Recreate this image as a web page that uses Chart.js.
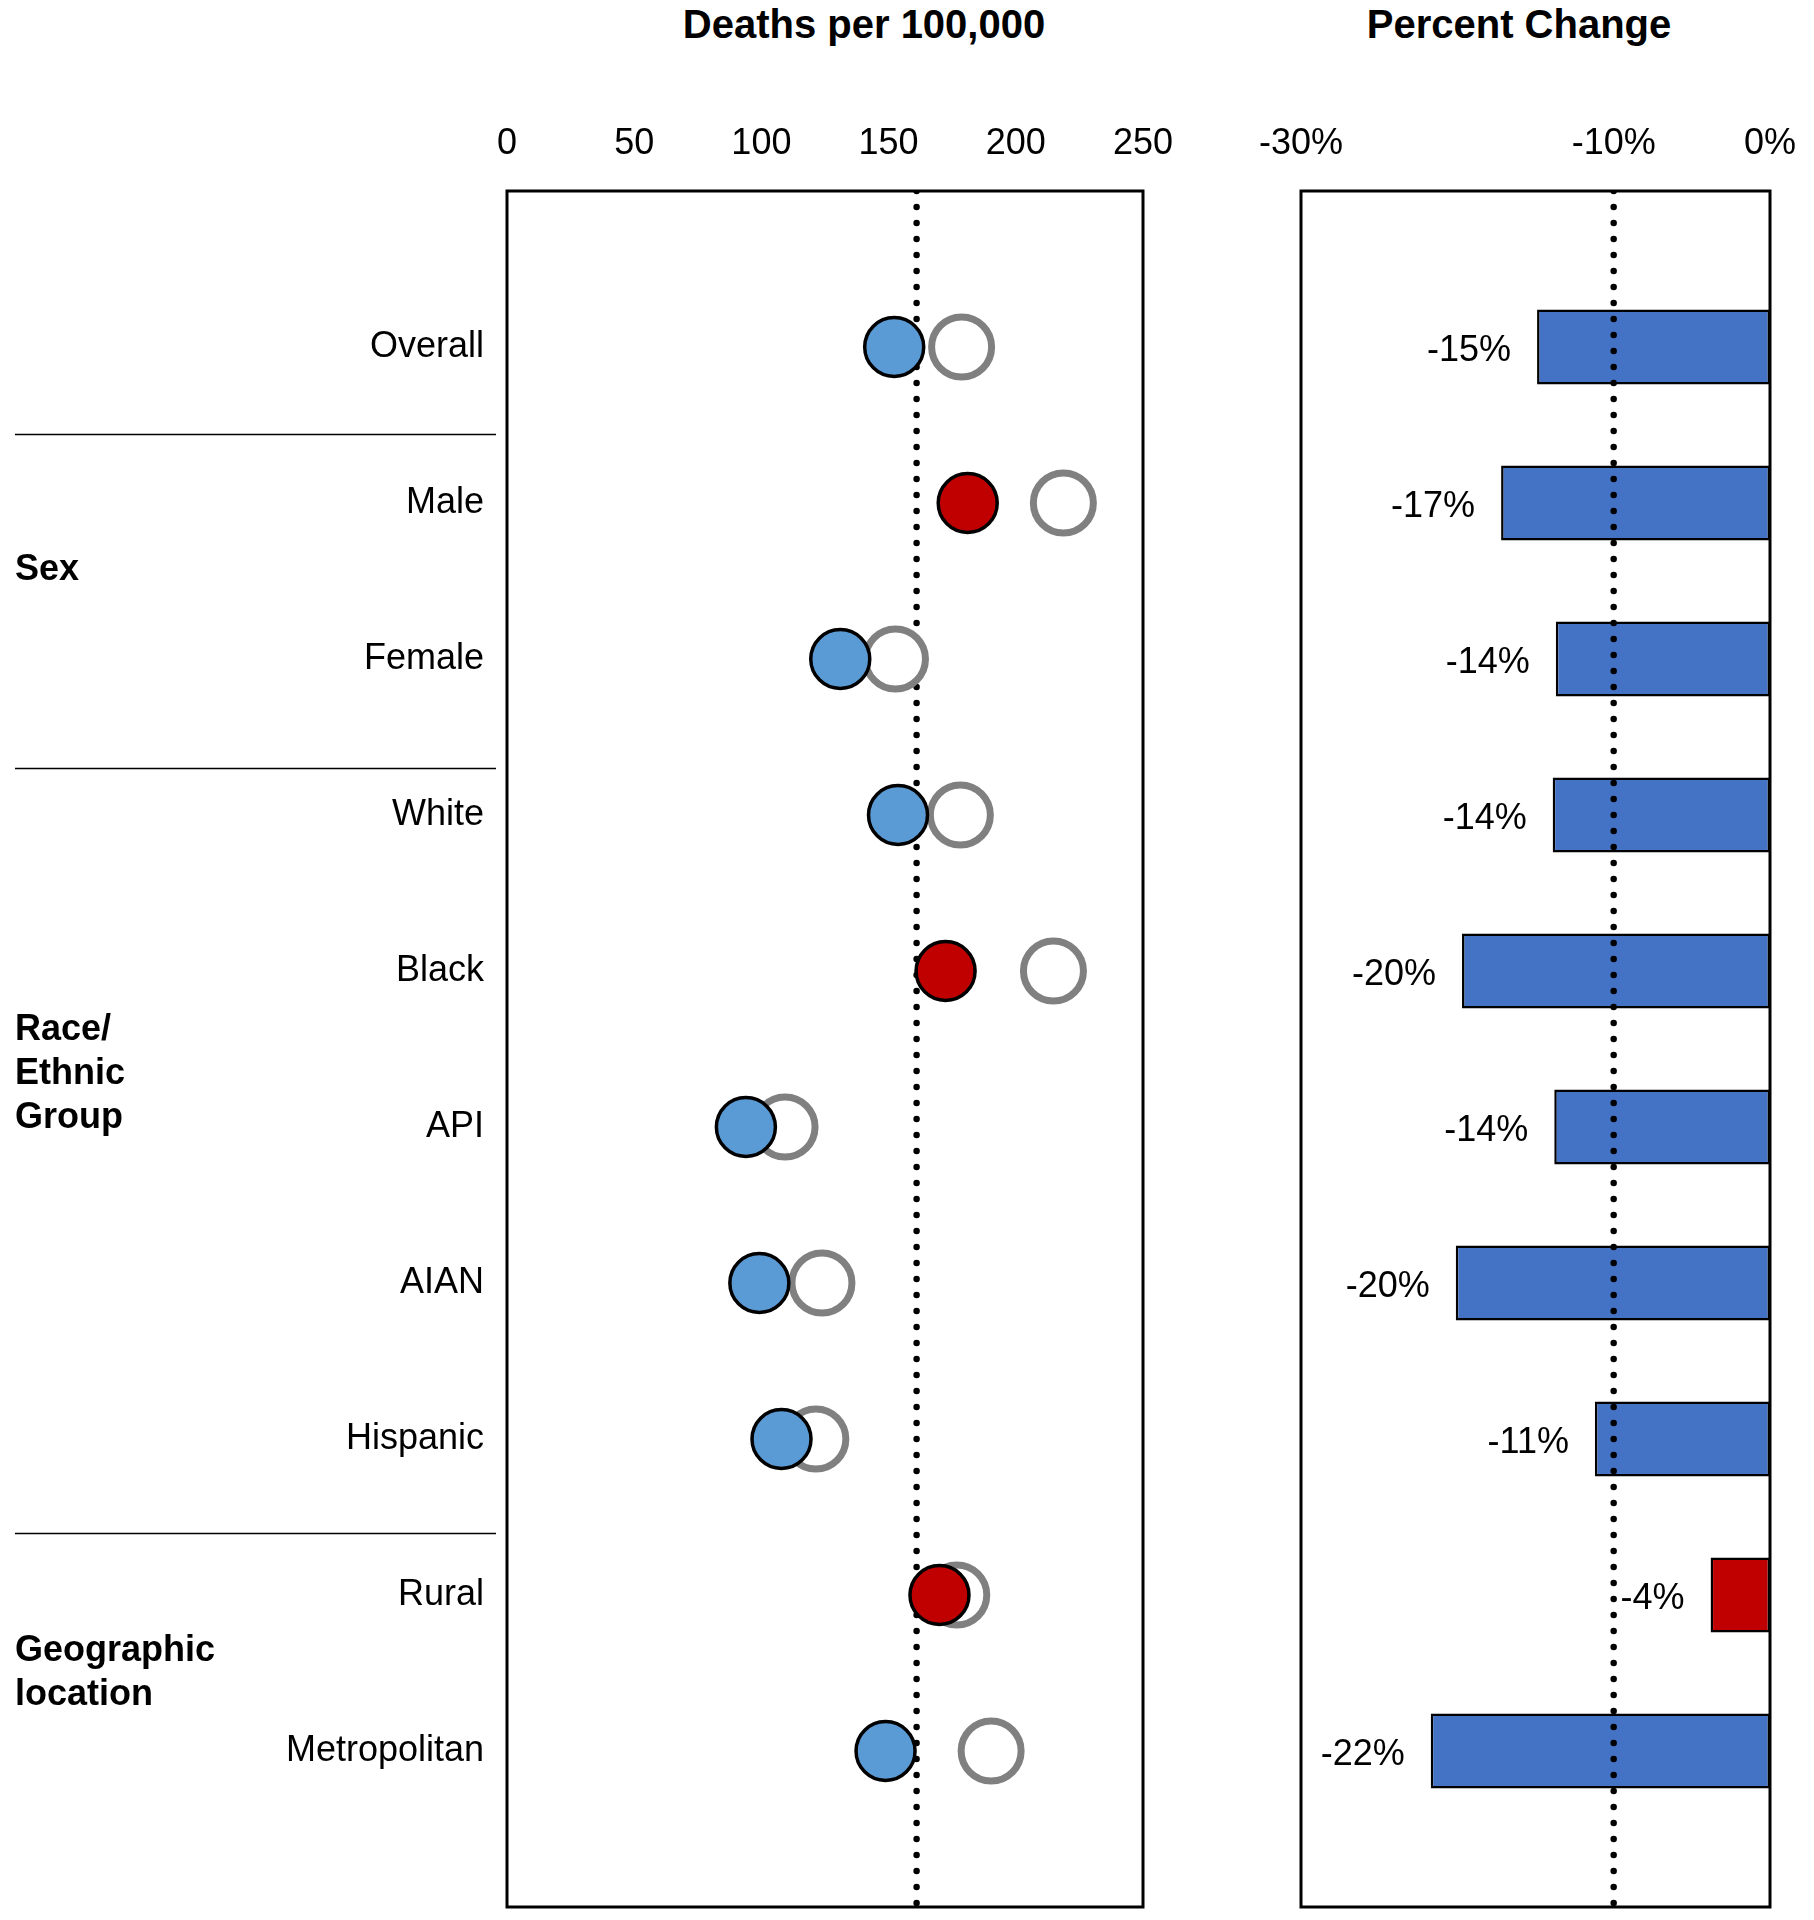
<!DOCTYPE html>
<html>
<head>
<meta charset="utf-8">
<script src="https://cdn.jsdelivr.net/npm/chart.js@4.4.1/dist/chart.umd.min.js"></script>
<style>
  body { margin: 0; background: #fff; }
  #page { position: relative; width: 1814px; height: 1920px; font-family: "Liberation Sans", Arial, sans-serif; color: #000; }
  .panel-title { position: absolute; top: 0; font-size: 40px; font-weight: bold; line-height: 48px; transform: translateX(-50%); white-space: nowrap; }
  canvas { position: absolute; top: 0; }
</style>
</head>
<body>
<div id="page">
  <div class="panel-title" style="left:864px">Deaths per 100,000</div>
  <div class="panel-title" style="left:1519px">Percent Change</div>
  <canvas id="rateChart" width="1200" height="1920" style="left:0"></canvas>
  <canvas id="changeChart" width="614" height="1920" style="left:1200px"></canvas>
</div>
<script>
// rows, top to bottom
const categories = ['Overall', 'Male', 'Female', 'White', 'Black', 'API', 'AIAN', 'Hispanic', 'Rural', 'Metropolitan'];
const baselineRate = [178.7, 218.7, 152.7, 178.2, 214.8, 109.3, 123.8, 121.4, 176.8, 190.3];
const currentRate = [152.2, 181.1, 131.0, 153.7, 172.4, 93.9, 99.2, 107.9, 170.0, 148.8];
const percentChange = [-14.9, -17.2, -13.7, -13.9, -19.7, -13.8, -20.1, -11.2, -3.8, -21.7];
const rateTicks = [0, 50, 100, 150, 200, 250];
const changeTicks = [-30, -10, 0];
const targetRate = 161;
const targetChange = -10;
const groupLabels = [['Sex'], ['Race/', 'Ethnic', 'Group'], ['Geographic', 'location']];

const FONT = '"Liberation Sans", Arial, sans-serif';
Chart.defaults.font.family = FONT;
Chart.defaults.font.size = 36;
Chart.defaults.color = '#000';

const BLUE_DOT = '#5B9BD5';
const BLUE_BAR = '#4472C4';
const RED = '#C00000';

const rowCount = categories.length;

// label overflow must not shrink the plot area
function noScalePadding(s) {
    s.paddingLeft = 0;
    s.paddingRight = 0;
    s.paddingTop = 0;
    s.paddingBottom = 0;
}

// frame around the plot area
const boxPlugin = {
    id: 'box',
    afterDraw(chart) {
        const a = chart.chartArea;
        const ctx = chart.ctx;
        ctx.save();
        ctx.strokeStyle = '#000';
        ctx.lineWidth = 3;
        ctx.strokeRect(a.left, a.top, a.right - a.left, a.bottom - a.top);
        ctx.restore();
    }
};

// group names and divider lines on the left
const groupPlugin = {
    id: 'groups',
    afterDraw(chart) {
        const y = chart.scales.y;
        const ctx = chart.ctx;
        const dividerRows = [1.56, 3.7, 8.6];
        const groupRows = [2.43, 5.66, 9.5];
        ctx.save();
        ctx.strokeStyle = '#000';
        ctx.lineWidth = 1.5;
        dividerRows.forEach(r => {
            const py = Math.round(y.getPixelForValue(r)) + 0.5;
            ctx.beginPath();
            ctx.moveTo(15, py);
            ctx.lineTo(496, py);
            ctx.stroke();
        });
        ctx.fillStyle = '#000';
        ctx.font = 'bold 36px ' + FONT;
        ctx.textAlign = 'left';
        ctx.textBaseline = 'middle';
        groupLabels.forEach((lines, g) => {
            const cy = y.getPixelForValue(groupRows[g]);
            lines.forEach((t, k) => {
                ctx.fillText(t, 15, cy + (k - (lines.length - 1) / 2) * 44);
            });
        });
        ctx.restore();
    }
};

// "-15%" etc. left of each bar
const barLabelPlugin = {
    id: 'barLabels',
    afterDatasetsDraw(chart) {
        const ctx = chart.ctx;
        const meta = chart.getDatasetMeta(0);
        ctx.save();
        ctx.fillStyle = '#000';
        ctx.font = '36px ' + FONT;
        ctx.textAlign = 'right';
        ctx.textBaseline = 'middle';
        meta.data.forEach((bar, i) => {
            ctx.fillText(Math.round(percentChange[i]) + '%', bar.x - 26, bar.y + 4);
        });
        ctx.restore();
    }
};

new Chart(document.getElementById('rateChart'), {
    type: 'scatter',
    data: {
        datasets: [
            {
                label: 'Current',
                data: currentRate.map((v, i) => ({ x: v, y: i + 1 })),
                backgroundColor: currentRate.map(v => v > targetRate ? RED : BLUE_DOT),
                borderColor: '#000',
                borderWidth: 3.5,
                pointRadius: 29.5,
                order: 0
            },
            {
                label: 'Baseline',
                data: baselineRate.map((v, i) => ({ x: v, y: i + 1 })),
                backgroundColor: '#fff',
                borderColor: '#808080',
                borderWidth: 7,
                pointRadius: 30,
                order: 1
            },
            {
                type: 'line',
                label: 'Target',
                data: [{ x: targetRate, y: 0 }, { x: targetRate, y: rowCount + 1 }],
                showLine: true,
                borderColor: '#000',
                borderWidth: 6.5,
                borderDash: [0, 16],
                borderCapStyle: 'round',
                pointRadius: 0,
                order: 2
            }
        ]
    },
    options: {
        responsive: false,
        animation: false,
        events: [],
        layout: { autoPadding: false, padding: { left: 0, right: 57, top: 0, bottom: 13 } },
        plugins: { legend: { display: false }, tooltip: { enabled: false } },
        scales: {
            x: {
                type: 'linear',
                position: 'top',
                min: 0,
                max: 250,
                afterBuildTicks: s => { s.ticks = rateTicks.map(v => ({ value: v })); },
                afterFit: s => { s.height = 191; noScalePadding(s); },
                ticks: { padding: 17, maxRotation: 0 },
                grid: { display: false },
                border: { display: false }
            },
            y: {
                type: 'linear',
                reverse: true,
                offset: false,
                min: 0,
                max: rowCount + 1,
                afterBuildTicks: s => { s.ticks = categories.map((c, i) => ({ value: i + 1 })); },
                afterFit: s => { s.width = 507; noScalePadding(s); },
                ticks: { padding: 15, callback: v => categories[v - 1] },
                grid: { display: false },
                border: { display: false }
            }
        }
    },
    plugins: [boxPlugin, groupPlugin]
});

new Chart(document.getElementById('changeChart'), {
    type: 'bar',
    data: {
        datasets: [
            {
                label: 'Percent change',
                data: percentChange.map((v, i) => ({ x: v, y: i + 1 })),
                backgroundColor: percentChange.map(v => v > targetChange ? RED : BLUE_BAR),
                borderColor: '#000',
                borderWidth: 2.5,
                borderSkipped: false,
                categoryPercentage: 1,
                barPercentage: 0.48,
                order: 1
            },
            {
                type: 'line',
                label: 'Target',
                data: [{ x: targetChange, y: 0 }, { x: targetChange, y: rowCount + 1 }],
                borderColor: '#000',
                borderWidth: 6.5,
                borderDash: [0, 16],
                borderCapStyle: 'round',
                pointRadius: 0,
                order: 0
            }
        ]
    },
    options: {
        indexAxis: 'y',
        responsive: false,
        animation: false,
        events: [],
        layout: { autoPadding: false, padding: { left: 101, right: 44, top: 0, bottom: 13 } },
        plugins: { legend: { display: false }, tooltip: { enabled: false } },
        scales: {
            x: {
                type: 'linear',
                position: 'top',
                min: -30,
                max: 0,
                afterBuildTicks: s => { s.ticks = changeTicks.map(v => ({ value: v })); },
                afterFit: s => { s.height = 191; noScalePadding(s); },
                ticks: { padding: 17, maxRotation: 0, callback: v => v + '%' },
                grid: { display: false },
                border: { display: false }
            },
            y: {
                type: 'linear',
                display: false,
                reverse: true,
                offset: false,
                min: 0,
                max: rowCount + 1,
                ticks: { stepSize: 1 }
            }
        }
    },
    plugins: [boxPlugin, barLabelPlugin]
});
</script>
</body>
</html>
